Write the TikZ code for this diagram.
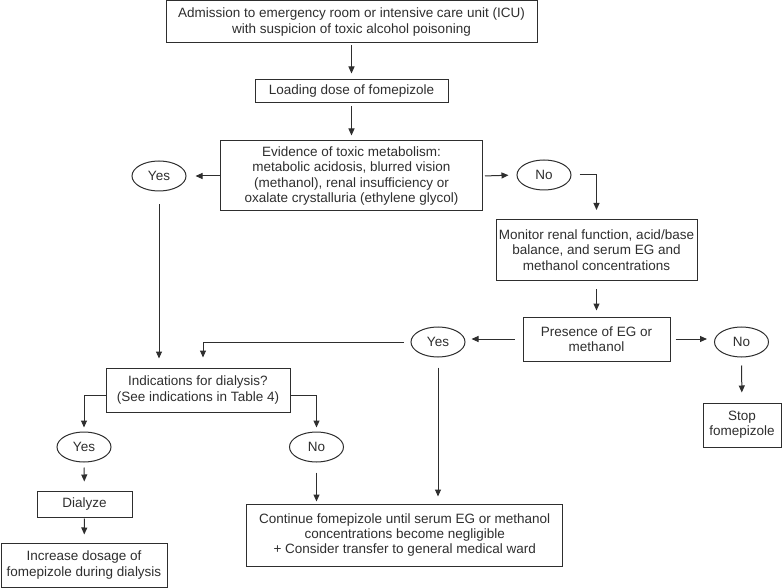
\documentclass[tikz,border=0pt]{standalone}
\usepackage{fontspec}
\setmainfont{Liberation Sans}
\usetikzlibrary{arrows.meta,shapes.geometric}
\definecolor{ink}{HTML}{2E2E2E}
\begin{document}
\begin{tikzpicture}[x=1pt, y=-1pt,
   box/.style={draw=ink, line width=1pt, text=ink, align=center, inner sep=0pt,
      font=\fontsize{13.5}{15.2}\selectfont},
   oval/.style={ellipse, draw=ink, line width=1pt, text=ink, inner sep=0pt,
      minimum width=54pt, minimum height=30pt, font=\fontsize{13.5}{15.2}\selectfont},
   arr/.style={draw=ink, line width=1pt, -{Triangle[length=7pt,width=6pt]},
      shorten <=3pt, shorten >=6pt}]
   \useasboundingbox (0,0) rectangle (782,588);
   % main column
   \node[box, minimum width=371pt, minimum height=42pt] (adm) at (351.5,22)
      {Admission to emergency room or intensive care unit (ICU)\\with suspicion of toxic alcohol poisoning};
   \node[box, minimum width=193pt, minimum height=23pt] (load) at (351.5,91.5) {Loading dose of fomepizole};
   \node[box, minimum width=262pt, minimum height=70pt] (evid) at (351.5,176)
      {Evidence of toxic metabolism:\\metabolic acidosis, blurred vision\\(methanol), renal insufficiency or\\oxalate crystalluria (ethylene glycol)};
   \node[oval] (yesA) at (159,176) {Yes};
   \node[oval] (noA) at (544,175) {No};
   % right branch
   \node[box, minimum width=201pt, minimum height=61pt] (mon) at (596.5,250)
      {Monitor renal function, acid/base\\balance, and serum EG and\\methanol concentrations};
   \node[box, minimum width=147pt, minimum height=44pt] (pres) at (596.5,339) {Presence of EG or\\methanol};
   \node[oval] (yesB) at (438,342) {Yes};
   \node[oval] (noB) at (741.5,342) {No};
   \node[box, minimum width=78pt, minimum height=44pt] (stop) at (742,425) {Stop\\fomepizole};
   % dialysis branch
   \node[box, minimum width=184pt, minimum height=44pt] (ind) at (198,390)
      {Indications for dialysis?\\(See indications in Table 4)};
   \node[oval] (yesC) at (84,447) {Yes};
   \node[oval] (noC) at (316.5,447) {No};
   \node[box, minimum width=95pt, minimum height=26pt] (dial) at (84.5,504) {Dialyze};
   \node[box, minimum width=166pt, minimum height=44pt] (inc) at (84,565)
      {Increase dosage of\\fomepizole during dialysis};
   \node[box, minimum width=316pt, minimum height=62pt] (cont) at (404.7,535)
      {Continue fomepizole until serum EG or methanol\\concentrations become negligible\\+ Consider transfer to general medical ward};
   % connectors
   \draw[arr, shorten <=2pt] (adm) -- (load);
   \draw[arr, shorten >=5pt] (load) -- (evid);
   \draw[arr, shorten <=0.5pt, shorten >=9pt] (evid.west) -- (yesA.east);
   \draw[arr, shorten <=2pt, shorten >=8pt] (evid.east) -- (noA.west);
   \draw[arr, shorten <=8pt, shorten >=9pt] (noA.east) -| (mon.north);
   \draw[arr, shorten <=8pt] (mon) -- (pres);
   \draw[arr, shorten <=8pt] (pres.west) -- (pres.west -| yesB.east);
   \draw[arr, shorten <=5pt, shorten >=7pt] (pres.east) -- (pres.east -| noB.west);
   \draw[arr, shorten <=8pt, shorten >=10pt] (noB) -- (stop);
   \draw[arr, shorten <=13pt, shorten >=9pt] (yesA.south) -- (yesA.south |- ind.north);
   \draw[arr, shorten <=7pt, shorten >=10pt] (yesB.west) -| ([xshift=5pt]ind.north);
   \draw[arr, shorten <=10pt, shorten >=7pt] (yesB.south) -- (yesB.south |- cont.north);
   \draw[arr, shorten <=0pt, shorten >=4pt] ([yshift=-5pt]ind.west) -| (yesC.north);
   \draw[arr, shorten <=0pt, shorten >=4pt] ([yshift=-5pt]ind.east) -| (noC.north);
   \draw[arr, shorten <=5pt, shorten >=9pt] (yesC) -- (dial);
   \draw[arr, shorten <=1pt, shorten >=8pt] (dial) -- (inc);
   \draw[arr, shorten <=10pt, shorten >=2pt] (noC.south) -- (noC.south |- cont.north);
\end{tikzpicture}
\end{document}
